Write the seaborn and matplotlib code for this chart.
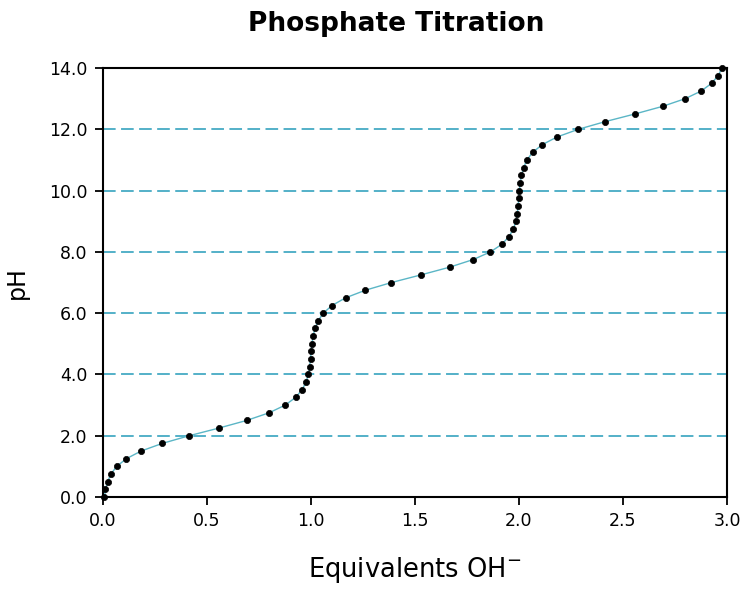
import numpy as np
import pandas as pd
import matplotlib
matplotlib.use("Agg")
import matplotlib.pyplot as plt
import seaborn as sns

# Titration data: pH vs equivalents of OH- added
ph_values = [0.0, 0.25, 0.5, 0.75, 1.0, 1.25, 1.5, 1.75, 2.0, 2.25, 2.5, 2.75,
             3.0, 3.25, 3.5, 3.75, 4.0, 4.25, 4.5, 4.75, 5.0, 5.25, 5.5, 5.75,
             6.0, 6.25, 6.5, 6.75, 7.0, 7.25, 7.5, 7.75, 8.0, 8.25, 8.5, 8.75,
             9.0, 9.25, 9.5, 9.75, 10.0, 10.25, 10.5, 10.75, 11.0, 11.25, 11.5,
             11.75, 12.0, 12.25, 12.5, 12.75, 13.0, 13.25, 13.5, 13.75, 14.0]
equiv_oh = [0.007, 0.012, 0.022, 0.038, 0.066, 0.112, 0.183, 0.285, 0.414,
            0.557, 0.691, 0.799, 0.876, 0.926, 0.957, 0.976, 0.987, 0.993,
            0.998, 1.001, 1.005, 1.010, 1.019, 1.034, 1.059, 1.101, 1.166,
            1.262, 1.387, 1.529, 1.666, 1.780, 1.863, 1.918, 1.952, 1.973,
            1.985, 1.992, 1.996, 1.999, 2.002, 2.006, 2.012, 2.022, 2.038,
            2.066, 2.112, 2.183, 2.285, 2.414, 2.557, 2.691, 2.799, 2.876,
            2.926, 2.957, 2.976]

x_ticks = [0.0, 0.5, 1.0, 1.5, 2.0, 2.5, 3.0]
y_ticks = [0, 2, 4, 6, 8, 10, 12, 14]
grid_levels = [2, 4, 6, 8, 10, 12]

df = pd.DataFrame({"equiv": equiv_oh, "pH": ph_values})

sns.set_theme(style="ticks")
plt.rcParams['font.family'] = ['DejaVu Sans']
plt.rcParams['text.color'] = 'black'
plt.rcParams['axes.labelcolor'] = 'black'

fig = plt.figure(figsize=(7.49, 5.91), dpi=100)
ax = fig.add_axes([0.1375, 0.159, 0.8331, 0.7259])

# dashed horizontal guides
for lvl in grid_levels:
    ax.axhline(lvl, color="#45aac4", lw=1.3, linestyle=(0, (7, 3)), zorder=1)

# smooth curve + data points
sns.lineplot(data=df, x="equiv", y="pH", sort=False, color="#5bb6c6",
             lw=1.0, ax=ax, zorder=2)
sns.scatterplot(data=df, x="equiv", y="pH", color="black", s=20,
                edgecolor="black", linewidth=0.5, ax=ax, zorder=3,
                clip_on=False)

ax.set_xlim(0, 3.0)
ax.set_ylim(0, 14)
ax.set_xticks(x_ticks)
ax.set_xticklabels([f"{v:.1f}" for v in x_ticks])
ax.set_yticks(y_ticks)
ax.set_yticklabels([f"{v:.1f}" for v in y_ticks])
ax.tick_params(axis="both", direction="out", length=6, width=1.3,
               labelsize=12.5, pad=5, color="black", labelcolor="black")

for sp in ax.spines.values():
    sp.set_visible(True)
    sp.set_color("black")
    sp.set_linewidth(1.5)

ax.set_xlabel("Equivalents OH$^{-}$", fontsize=18.5, labelpad=18)
ax.set_ylabel("pH", fontsize=17, labelpad=15)

fig.text(396 / 749, 1 - 24 / 591, "Phosphate Titration", ha="center",
         va="center", fontsize=19, fontweight="bold")

fig.savefig("out.png", dpi=100)
